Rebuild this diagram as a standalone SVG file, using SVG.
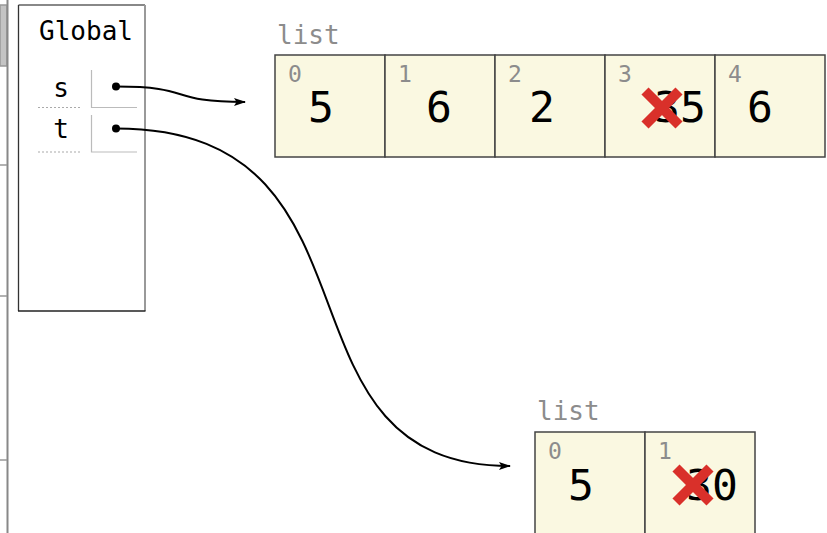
<svg xmlns="http://www.w3.org/2000/svg" width="827" height="533" viewBox="0 0 827 533">
<style>
.mono{font-family:"DejaVu Sans Mono","Liberation Mono",monospace}
.lbl{font-size:26px;fill:#000}
.typ{font-size:26px;fill:#8c8c8c}
.idx{font-size:23px;fill:#8c8c8c}
.val{font-size:43px;fill:#000}
.cell{fill:#faf8e1;stroke:#444;stroke-width:1.5}
.vbox{fill:none;stroke:#bbb;stroke-width:1.2}
.dot{stroke:#aaa;stroke-width:1.2;stroke-dasharray:2 2}
.x{stroke:#d9302a;stroke-width:10}
.conn{fill:none;stroke:#000;stroke-width:2}
</style>
<defs>
<marker id="ah" viewBox="0 0 12 10" refX="11" refY="5" markerWidth="12" markerHeight="10" markerUnits="userSpaceOnUse" orient="auto">
<path d="M0,1 L12,5 L0,9 L2.5,5 Z" fill="#000"/>
</marker>
</defs>
<rect x="0" y="0" width="827" height="533" fill="#fff"/>
<g id="sidebar">
<rect x="0" y="5" width="7" height="61" fill="#c4c4c4" stroke="#999" stroke-width="1.5"/>
<line x1="7.5" y1="0" x2="7.5" y2="533" stroke="#888" stroke-width="2"/>
<line x1="0" y1="165" x2="7" y2="165" stroke="#999" stroke-width="1.5"/>
<line x1="0" y1="296" x2="7" y2="296" stroke="#999" stroke-width="1.5"/>
<line x1="0" y1="460" x2="7" y2="460" stroke="#999" stroke-width="1.5"/>
</g>
<g id="global-frame">
<rect x="18.5" y="5" width="126.5" height="306" fill="#fff"/>
<line x1="18.5" y1="5" x2="145" y2="5" stroke="#888" stroke-width="2"/>
<line x1="145" y1="5" x2="145" y2="311" stroke="#999" stroke-width="2"/>
<line x1="18.5" y1="5" x2="18.5" y2="311" stroke="#333" stroke-width="1.3"/>
<line x1="18" y1="311" x2="145.5" y2="311" stroke="#222" stroke-width="1.5"/>
<text class="mono lbl" x="86" y="40" text-anchor="middle">Global</text>
</g>
<g id="var-s">
<text class="mono lbl" x="61" y="97" text-anchor="middle">s</text>
<line class="dot" x1="38" y1="107.5" x2="82" y2="107.5"/>
<path class="vbox" d="M91.5,70 V107.5 H137"/>
<circle cx="116" cy="86.5" r="4" fill="#000"/>
</g>
<g id="var-t">
<text class="mono lbl" x="61" y="138" text-anchor="middle">t</text>
<line class="dot" x1="38" y1="152" x2="82" y2="152"/>
<path class="vbox" d="M91.5,115 V152 H137"/>
<circle cx="116" cy="128.5" r="4" fill="#000"/>
</g>
<g id="list1">
<text class="mono typ" x="277" y="44">list</text>
<rect class="cell" x="275" y="55" width="110" height="102"/>
<rect class="cell" x="385" y="55" width="110" height="102"/>
<rect class="cell" x="495" y="55" width="110" height="102"/>
<rect class="cell" x="605" y="55" width="110" height="102"/>
<rect class="cell" x="715" y="55" width="110" height="102"/>
<text class="mono idx" x="288" y="82">0</text>
<text class="mono idx" x="398" y="82">1</text>
<text class="mono idx" x="508" y="82">2</text>
<text class="mono idx" x="618" y="82">3</text>
<text class="mono idx" x="728" y="82">4</text>
<text class="mono val" x="321" y="122" text-anchor="middle">5</text>
<text class="mono val" x="439" y="122" text-anchor="middle">6</text>
<text class="mono val" x="542" y="122" text-anchor="middle">2</text>
<text class="mono val" x="680" y="122" text-anchor="middle">35</text>
<text class="mono val" x="760" y="122" text-anchor="middle">6</text>
<line class="x" x1="645" y1="91" x2="679" y2="125"/>
<line class="x" x1="679" y1="91" x2="645" y2="125"/>
</g>
<g id="list2">
<text class="mono typ" x="537" y="420">list</text>
<rect class="cell" x="535" y="432" width="110" height="110"/>
<rect class="cell" x="645" y="432" width="110" height="110"/>
<text class="mono idx" x="548" y="459">0</text>
<text class="mono idx" x="658" y="459">1</text>
<text class="mono val" x="581" y="500" text-anchor="middle">5</text>
<text class="mono val" x="712" y="500" text-anchor="middle">30</text>
<line class="x" x1="676" y1="468" x2="710" y2="502"/>
<line class="x" x1="710" y1="468" x2="676" y2="502"/>
</g>
<g id="connectors">
<path class="conn" d="M116,86.5 C196,86.5 165,102 245,102" marker-end="url(#ah)"/>
<path class="conn" d="M116,128.5 C400,128.5 260,466 510,466" marker-end="url(#ah)"/>
</g>
</svg>
